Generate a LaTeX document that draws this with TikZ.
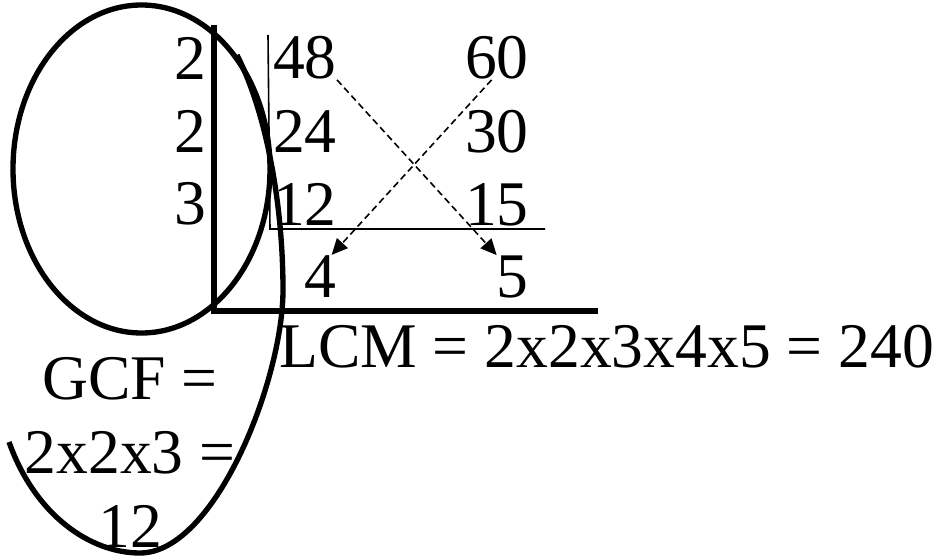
\documentclass[tikz,border=0pt]{standalone}
\usepackage{fontspec}
\setmainfont{Liberation Serif}
\usepackage{tikz}
\usetikzlibrary{arrows.meta, calc}

\begin{document}
\begin{tikzpicture}[x=0.75pt, y=-0.75pt,
    every node/.style={inner sep=0pt, font=\fontsize{47.7}{55.5}\selectfont},
    heavy/.style={line width=4pt},
    light/.style={line width=1.2pt},
    cross/.style={line width=1.2pt, dash pattern=on 5pt off 3pt,
                  -{Triangle[length=12pt, width=11pt]}}]
  \useasboundingbox (0,0) rectangle (939,556);

  % factors on the left of the ladder
  \node[anchor=base east] (f1) at (207,80) {2};
  \node[anchor=base east] (f2) at (207,153) {2};
  \node[anchor=base east] (f3) at (207,224) {3};

  % the two numbers, divided step by step
  \node[anchor=base east] (n48) at (337,79) {48};
  \node[anchor=base east] (n24) at (337,153) {24};
  \node[anchor=base east] (n12) at (337,226) {12};
  \node[anchor=base east] (n4) at (337,297) {4};
  \node[anchor=base east] (n60) at (529,79) {60};
  \node[anchor=base east] (n30) at (529,153) {30};
  \node[anchor=base east] (n15) at (529,226) {15};
  \node[anchor=base east] (n5) at (529,297) {5};

  \node[anchor=base west] (lcm) at (279,367) {LCM = 2x2x3x4x5 = 240};
  \node[anchor=north, align=center] (gcf) at (130,357) {GCF =\\2x2x3 =\\12};

  % ladder bars
  \draw[heavy] (214,25) -- (214,311) -- (598,311);
  \draw[light] (268,35) -- (270,229) -- (545,229);

  % crossing arrows
  \draw[cross] (n48.south east) -- (n5.north west);
  \draw[cross] ([xshift=-4pt]n60.south) -- ([xshift=-4pt]n4.north east);

  % rings round the common factors
  \draw[heavy] (141.5,169) ellipse [x radius=128.5, y radius=164];
  \draw[heavy] (9,442) .. controls (35,515) and (90,553) .. (140,553)
    .. controls (215,553) and (283,380) .. (283,290)
    .. controls (283,200) and (265,110) .. (237,55);
\end{tikzpicture}
\end{document}
